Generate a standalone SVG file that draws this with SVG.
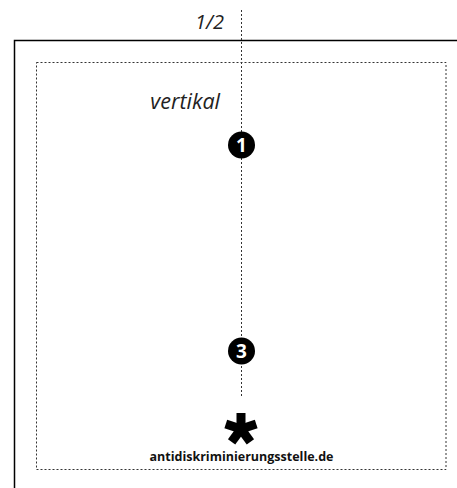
<svg xmlns="http://www.w3.org/2000/svg" width="457" height="488" viewBox="0 0 457 488">
<style>
.lbl{font-family:"Open Sans","Liberation Sans",sans-serif;font-style:italic;font-size:20px;fill:#222}
.wide{font-size:21.5px}
.num{font-family:"Open Sans","Liberation Sans",sans-serif;font-weight:bold;font-size:19px;fill:#fff}
.url{font-family:"Open Sans","Liberation Sans",sans-serif;font-weight:bold;font-size:12.5px;fill:#111}
.dot{fill:none;stroke:#333;stroke-width:1;stroke-dasharray:2 2}
</style>
<rect width="457" height="488" fill="#fff"/>
<g id="frame">
<path d="M14.5 488 V40.5 H457" fill="none" stroke="#000" stroke-width="1.5"/>
</g>
<g id="safe-area">
<rect class="dot" x="36.5" y="62.5" width="409.5" height="407"/>
</g>
<g id="labels">
<text class="lbl" x="224" y="29" text-anchor="end">1/2</text>
<text class="lbl wide" x="220" y="109" text-anchor="end">vertikal</text>
</g>
<g id="connectors">
<line class="dot" x1="241.5" y1="10" x2="241.5" y2="397"/>
</g>
<g id="node-1">
<circle cx="241.5" cy="145" r="13.5" fill="#000"/>
<text class="num" x="241.5" y="152" text-anchor="middle">1</text>
</g>
<g id="node-3">
<circle cx="241.5" cy="351" r="13.5" fill="#000"/>
<text class="num" x="241.5" y="358" text-anchor="middle">3</text>
</g>
<g id="logo">
<g transform="translate(241,429)" fill="#000">
<rect x="-4.5" y="-16" width="9" height="16"/>
<rect x="-4.5" y="-16" width="9" height="16" transform="rotate(72)"/>
<rect x="-4.5" y="-16" width="9" height="16" transform="rotate(144)"/>
<rect x="-4.5" y="-16" width="9" height="16" transform="rotate(216)"/>
<rect x="-4.5" y="-16" width="9" height="16" transform="rotate(288)"/>
<circle r="6"/>
</g>
<text class="url" x="241.5" y="461" text-anchor="middle">antidiskriminierungsstelle.de</text>
</g>
</svg>
